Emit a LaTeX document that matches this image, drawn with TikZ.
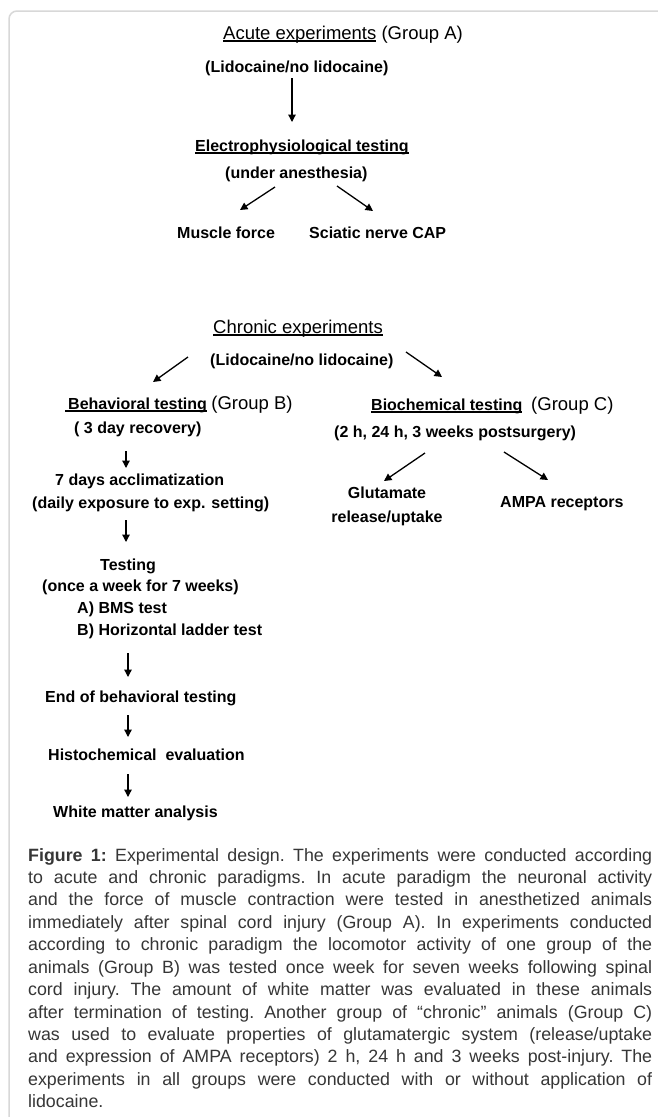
\documentclass[tikz,border=0pt]{standalone}
\usepackage{fontspec}
\setmainfont{Liberation Sans}
\usetikzlibrary{arrows.meta}
\definecolor{capgray}{HTML}{363636}
\definecolor{framegray}{HTML}{D8D8D8}
\newsavebox\ulbx
\newcommand{\ulin}[1]{\sbox\ulbx{#1}\rlap{\rule[-2.8bp]{\wd\ulbx}{1.4bp}}\usebox\ulbx}
\tikzset{
  bt/.style={anchor=base west, inner sep=0pt, font=\fontsize{16bp}{19bp}\selectfont\bfseries},
  rt/.style={anchor=base west, inner sep=0pt, font=\fontsize{18.5bp}{22bp}\selectfont},
  arr/.style={-{Triangle[length=7.5bp,width=7.5bp]}, line width=1.3bp},
  framestyle/.style={draw=framegray, line width=1.5bp, rounded corners=8bp},
}
\begin{document}
\begin{tikzpicture}[x=1bp,y=-1bp]
\useasboundingbox (0,0) rectangle (658,1117);
\fill[white] (0,0) rectangle (658,1117);
\draw[framestyle] (658,11) -- (9,11) -- (9,1117);

% ---------- Acute ----------
\node[rt] (acute) at (223,39) {\ulin{Acute experiments} (Group A)};
\node[bt] (lidoA) at (205,72) {(Lidocaine/no lidocaine)};
\node[bt] (electro) at (195,151) {\ulin{Electrophysiological testing}};
\node[bt] (anest) at (225,178) {(under anesthesia)};
\node[bt] (muscle) at (177,238) {Muscle force};
\node[bt] (sciatic) at (309,238) {Sciatic nerve CAP};

\coordinate (a1s) at (292,78);  \coordinate (a1e) at (292,122);
\coordinate (a2s) at (275,187); \coordinate (a2e) at (240,210);
\coordinate (a3s) at (337,186); \coordinate (a3e) at (373,211);
\draw[arr] (a1s) -- (a1e);
\draw[arr] (a2s) -- (a2e);
\draw[arr] (a3s) -- (a3e);

% ---------- Chronic ----------
\node[rt] (chronic) at (213,333) {\ulin{Chronic experiments}};
\node[bt] (lidoC) at (210,365) {(Lidocaine/no lidocaine)};
\coordinate (c1s) at (188,357); \coordinate (c1e) at (153,382);
\coordinate (c2s) at (406,352); \coordinate (c2e) at (442,377);
\draw[arr] (c1s) -- (c1e);
\draw[arr] (c2s) -- (c2e);

% Behavioral column
\node[bt] (behav) at (65,409) {\ulin{\hspace{3bp}Behavioral testing} {\fontsize{18.5bp}{22bp}\selectfont\mdseries(Group B)}};
\node[bt] (recov) at (74,433) {( 3 day recovery)};
\node[bt] (accl) at (55,485) {7 days acclimatization};
\node[bt] (daily) at (32,508) {(daily exposure to exp. setting)};
\node[bt] (testing) at (100,570) {Testing};
\node[bt] (once) at (42,591) {(once a week for 7 weeks)};
\node[bt] (bms) at (77,613) {A) BMS test};
\node[bt] (ladder) at (77,635) {B) Horizontal ladder test};
\node[bt] (endb) at (45,702) {End of behavioral testing};
\node[bt] (histo) at (48,760) {Histochemical\ \ evaluation};
\node[bt] (white) at (53,817) {White matter analysis};

\coordinate (b1s) at (126,451); \coordinate (b1e) at (126,468);
\coordinate (b2s) at (126,520); \coordinate (b2e) at (126,542);
\coordinate (b3s) at (128,653); \coordinate (b3e) at (128,677);
\coordinate (b4s) at (128,715); \coordinate (b4e) at (128,737);
\coordinate (b5s) at (128,774); \coordinate (b5e) at (128,797);
\draw[arr] (b1s) -- (b1e);
\draw[arr] (b2s) -- (b2e);
\draw[arr] (b3s) -- (b3e);
\draw[arr] (b4s) -- (b4e);
\draw[arr] (b5s) -- (b5e);

% Biochemical column
\node[bt] (biochem) at (371,410) {\ulin{Biochemical testing}\ \ {\fontsize{18.5bp}{22bp}\selectfont\mdseries(Group C)}};
\node[bt] (times) at (334,437) {(2 h, 24 h, 3 weeks postsurgery)};
\node[anchor=base, inner sep=0pt, align=center, font=\fontsize{16bp}{24bp}\selectfont\bfseries] (glut) at (387,522) {Glutamate\\release/uptake};
\node[bt] (ampa) at (500,507) {AMPA receptors};
\coordinate (d1s) at (425,453); \coordinate (d1e) at (384,481);
\coordinate (d2s) at (504,452); \coordinate (d2e) at (548,480);
\draw[arr] (d1s) -- (d1e);
\draw[arr] (d2s) -- (d2e);

% ---------- Caption ----------
\node[anchor=north west, inner sep=0pt, text width=624bp, align=justify, text=capgray,
      font=\fontsize{17.8bp}{22.43bp}\selectfont] (caption) at (28,848) {%
\frenchspacing\tolerance=9999\pretolerance=-1\hyphenpenalty=10000\noindent
\textbf{Figure 1:} Experimental design. The experiments were conducted according\linebreak
to acute and chronic paradigms. In acute paradigm the neuronal activity\linebreak
and the force of muscle contraction were tested in anesthetized animals\linebreak
immediately after spinal cord injury (Group A). In experiments conducted\linebreak
according to chronic paradigm the locomotor activity of one group of the\linebreak
animals (Group B) was tested once week for seven weeks following spinal\linebreak
cord injury. The amount of white matter was evaluated in these animals\linebreak
after termination of testing. Another group of “chronic” animals (Group C)\linebreak
was used to evaluate properties of glutamatergic system (release/uptake\linebreak
and expression of AMPA receptors) 2 h, 24 h and 3 weeks post-injury. The\linebreak
experiments in all groups were conducted with or without application of\linebreak
lidocaine.};
\end{tikzpicture}
\end{document}
